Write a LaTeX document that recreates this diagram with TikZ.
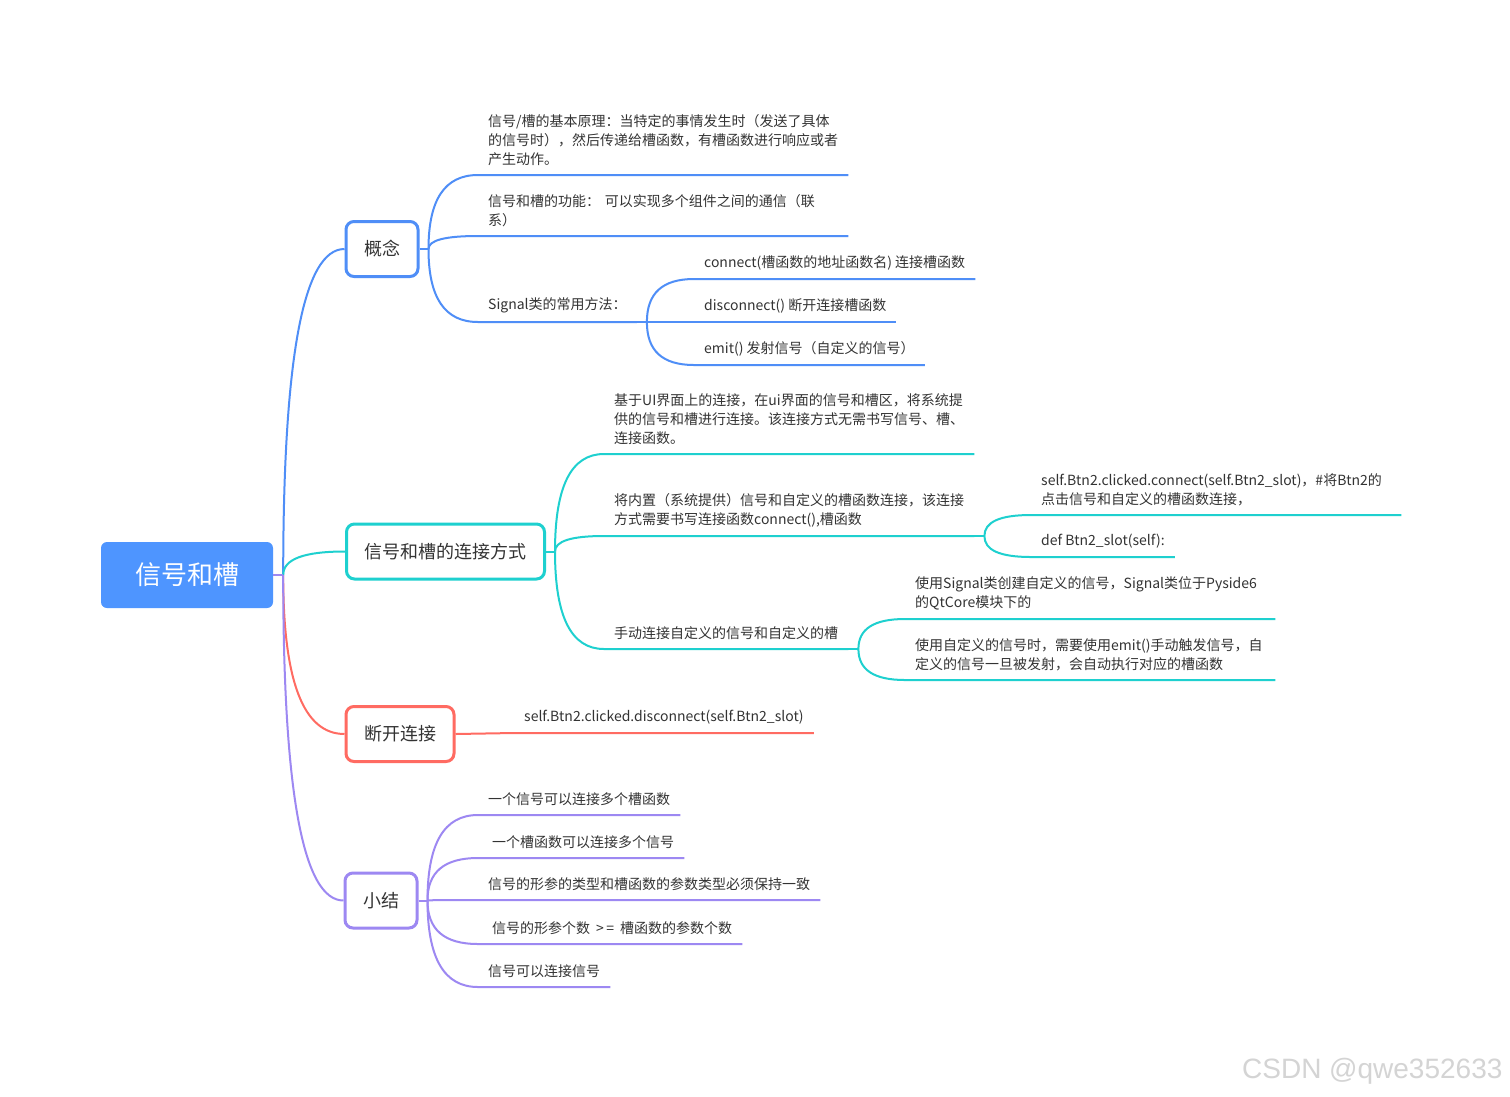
\documentclass[tikz,border=0pt]{standalone}
\usepackage{fontspec}
\setmainfont{Noto Sans CJK SC}
\newfontfamily\wmfont{Liberation Sans}
\usetikzlibrary{positioning,calc}
\definecolor{ink}      {HTML}{333333}
\definecolor{rootblue} {HTML}{4E95FF}
\definecolor{conblue}  {HTML}{4F8EF7}
\definecolor{linkteal} {HTML}{1ED0CF}
\definecolor{cutred}   {HTML}{FF6B62}
\definecolor{sumpurple}{HTML}{9D88F2}
\tikzset{
  % --- nodes
  root/.style  = {rounded corners=6pt, fill=rootblue, text=white, minimum height=66pt,
                  inner xsep=34pt, font=\fontsize{26}{30}\selectfont},
  topic/.style = {rounded corners=8pt, draw=#1, line width=3pt, fill=white, text=ink,
                  minimum height=55pt, inner xsep=18pt, font=\fontsize{18}{22}\selectfont},
  leaf/.style  = {anchor=south west, inner xsep=10pt, inner ysep=9pt, text=ink,
                  align=left, font=\fontsize{14}{19}\selectfont},
  wide/.style  = {leaf, text width=350pt},
  % --- edges
  e/.style     = {line width=2pt, draw=#1},
  twig/.style  = {to path={.. controls ($(\tikztostart)!.67!(\tikztostart |- \tikztotarget)$)
                  and ($(\tikztotarget)!.67!(\tikztostart |- \tikztotarget)$) .. (\tikztotarget)}},
}
\begin{document}
\begin{tikzpicture}[x=1pt,y=-1pt]
  \fill[white] (0,0) rectangle (1510,1096);
  \useasboundingbox (0,0) rectangle (1510,1096);

  \node[root] (gen) at (187,575) {信号和槽};
  \node[topic=conblue]   (gn) at (382,249)   {概念};
  \node[topic=linkteal]  (lj) at (445.5,551.5) {信号和槽的连接方式};
  \node[topic=cutred]    (dk) at (400,734)   {断开连接};
  \node[topic=sumpurple] (xj) at (381,900.5) {小结};

  % concept
  \node[wide] (gn1) at (478,175) {信号/槽的基本原理：当特定的事情发生时（发送了具体\\的信号时），然后传递给槽函数，有槽函数进行响应或者\\产生动作。};
  \node[wide] (gn2) at (478,236) {信号和槽的功能： 可以实现多个组件之间的通信（联\\系）};
  \node[leaf] (gn3) at (478,322) {Signal类的常用方法：};
  \node[leaf] (sg1) at (694,279) {connect(槽函数的地址函数名) 连接槽函数};
  \node[leaf] (sg2) at (694,322) {disconnect() 断开连接槽函数};
  \node[leaf] (sg3) at (694,365) {emit() 发射信号（自定义的信号）};

  % ways to connect
  \node[wide] (lj1) at (604,454) {基于UI界面上的连接，在ui界面的信号和槽区，将系统提\\供的信号和槽进行连接。该连接方式无需书写信号、槽、\\连接函数。};
  \node[wide] (lj2) at (604,536) {将内置（系统提供）信号和自定义的槽函数连接，该连接\\方式需要书写连接函数connect(),槽函数};
  \node[leaf] (lj3) at (604,649) {手动连接自定义的信号和自定义的槽};
  \node[wide] (nz1) at (1031,515) {self.Btn2.clicked.connect(self.Btn2\_slot)，\#将Btn2的\\点击信号和自定义的槽函数连接，};
  \node[leaf] (nz2) at (1031,557) {def Btn2\_slot(self):};
  \node[wide] (zd1) at (905,619) {使用Signal类创建自定义的信号，Signal类位于Pyside6\\的QtCore模块下的};
  \node[wide] (zd2) at (905,680) {使用自定义的信号时，需要使用emit()手动触发信号，自\\定义的信号一旦被发射，会自动执行对应的槽函数};

  % disconnect
  \node[leaf] (dk1) at (514,733) {self.Btn2.clicked.disconnect(self.Btn2\_slot)};

  % summary
  \node[leaf] (xj1) at (478,815) {一个信号可以连接多个槽函数};
  \node[leaf] (xj2) at (478,858) {\hspace*{4pt}一个槽函数可以连接多个信号};
  \node[leaf] (xj3) at (478,900) {信号的形参的类型和槽函数的参数类型必须保持一致};
  \node[leaf] (xj4) at (478,944) {\hspace*{4pt}信号的形参个数\hspace{6pt}>\,=\hspace{6pt}槽函数的参数个数};
  \node[leaf] (xj5) at (478,987) {信号可以连接信号};

  \node[font=\wmfont\fontsize{28}{32}\selectfont, text=black!17, anchor=east] (wm) at (1506,1071) {CSDN @qwe352633};

  % root -> topics
  \foreach \t/\c in {gn/conblue,lj/linkteal,dk/cutred,xj/sumpurple}
    \draw[e=\c] ($(gen.east)+(10,0)$) to[twig] (\t.west);
  \draw[e=sumpurple] (gen.east) -- ++(10,0);

  % topics -> leaves
  \draw[e=conblue] (gn.east) -- ++(9,0) coordinate (h1);
  \foreach \n in {gn1,gn2,gn3}
    \draw[e=conblue] (h1) to[twig] (\n.south west) -- (\n.south east);
  \draw[e=conblue] (gn3.south east) -- ++(10,0) coordinate (h4);
  \foreach \n in {sg1,sg2,sg3}
    \draw[e=conblue] (h4) to[twig] (\n.south west) -- (\n.south east);

  \draw[e=linkteal] (lj.east) -- ++(9,0) coordinate (h2);
  \foreach \n in {lj1,lj2,lj3}
    \draw[e=linkteal] (h2) to[twig] (\n.south west) -- (\n.south east);
  \draw[e=linkteal] (lj2.south east) -- ++(10,0) coordinate (h5);
  \foreach \n in {nz1,nz2}
    \draw[e=linkteal] (h5) to[twig] (\n.south west) -- (\n.south east);
  \draw[e=linkteal] (lj3.south east) -- ++(10,0) coordinate (h6);
  \foreach \n in {zd1,zd2}
    \draw[e=linkteal] (h6) to[twig] (\n.south west) -- (\n.south east);

  \draw[e=cutred] (dk.east) -- (dk1.south west) -- (dk1.south east);

  \draw[e=sumpurple] (xj.east) -- ++(9,0) coordinate (h3);
  \foreach \n in {xj1,xj2,xj3,xj4,xj5}
    \draw[e=sumpurple] (h3) to[twig] (\n.south west) -- (\n.south east);
\end{tikzpicture}
\end{document}
